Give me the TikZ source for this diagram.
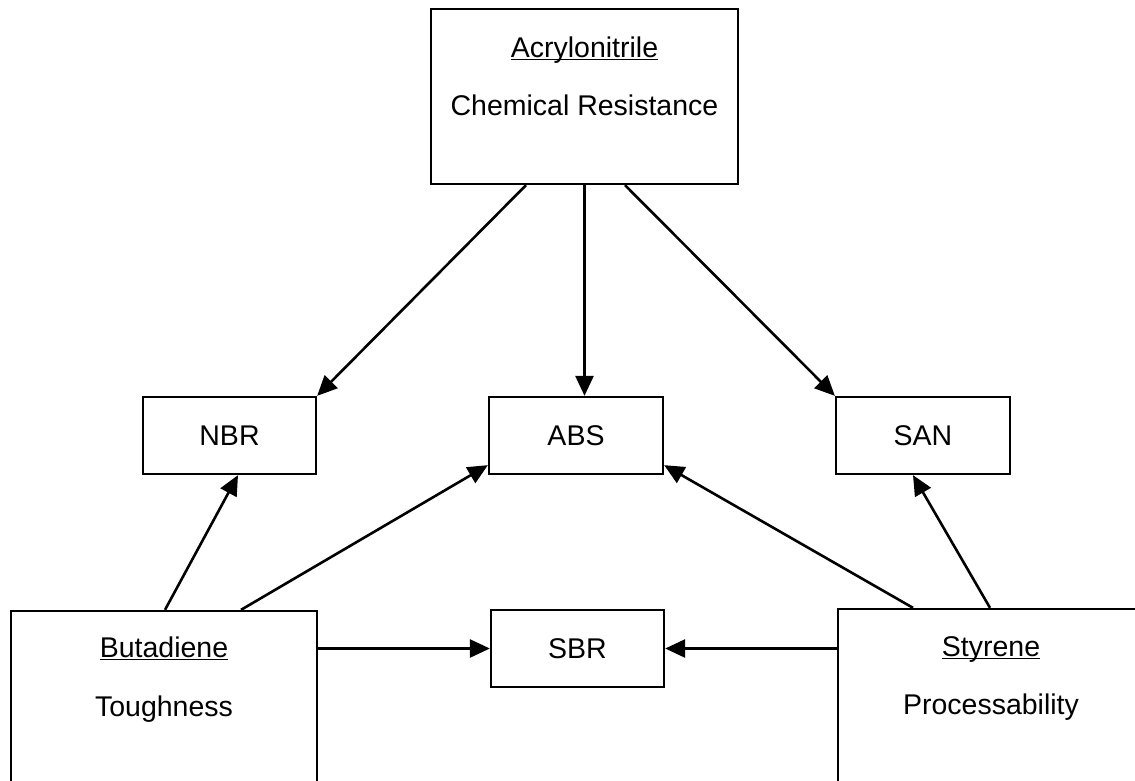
\documentclass[tikz,border=0pt]{standalone}
\usepackage{fontspec}
\setmainfont{Liberation Sans}
\usetikzlibrary{arrows.meta}
\newcommand\myul[1]{\setbox0\hbox{#1}\rlap{\rule[-2.5pt]{\wd0}{1.5pt}}\box0}
\tikzset{
  box/.style={draw=black, line width=2.3pt, fill=white, inner sep=0pt},
  bigbox/.style={box, minimum width=306pt, minimum height=175pt},
  smallbox/.style={box, minimum width=174pt, minimum height=77pt, font=\fontsize{28.5}{34}\selectfont},
  lbl/.style={anchor=base, inner sep=0pt, font=\fontsize{28.5}{34}\selectfont},
  conn/.style={line width=2.6pt, -{Triangle[length=20pt,width=18pt]}}
}
\begin{document}
\begin{tikzpicture}[x=1pt,y=-1pt]
\useasboundingbox (0,0) rectangle (1135,781);
\clip (0,0) rectangle (1135,781);
\fill[white] (0,0) rectangle (1135,781);
% boxes
\node[bigbox, minimum width=307pt] (acr) at (584.5,96.5) {};
\node[lbl] (acrA) at ([yshift=-50pt]acr.north) {\myul{Acrylonitrile}};
\node[lbl] (acrB) at ([yshift=-108pt]acr.north) {Chemical Resistance};
\node[smallbox, minimum width=173pt] (nbr) at (229.5,435.5) {NBR};
\node[smallbox] (abs) at (576,435.5) {ABS};
\node[smallbox] (san) at (923,435.5) {SAN};
\node[smallbox, minimum width=173pt] (sbr) at (577.5,648.5) {SBR};
\node[bigbox] (but) at (164,698.5) {};
\node[lbl] (butA) at ([yshift=-48pt]but.north) {\myul{Butadiene}};
\node[lbl] (butB) at ([yshift=-106.5pt]but.north) {Toughness};
\node[bigbox] (sty) at (991,696.5) {};
\node[lbl] (styA) at ([yshift=-49pt]sty.north) {\myul{Styrene}};
\node[lbl] (styB) at ([yshift=-107pt]sty.north) {Processability};
% connectors
\draw[conn] ([xshift=-58.5pt]acr.south) -- (nbr.north east);
\draw[conn] (acr.south) -- (acr.south |- abs.north);
\draw[conn] ([xshift=40.5pt]acr.south) -- (san.north west);
\draw[conn] ([xshift=1pt]but.north) -- ([xshift=8.5pt]nbr.south);
\draw[conn] ([xshift=77pt]but.north) -- ([yshift=10pt]abs.south west);
\draw[conn] ([xshift=-78pt]sty.north) -- ([yshift=10pt]abs.south east);
\draw[conn] ([xshift=-1pt]sty.north) -- ([xshift=-10pt]san.south);
\draw[conn] (sbr.west -| but.east) -- (sbr.west);
\draw[conn] (sbr.east -| sty.west) -- (sbr.east);
\end{tikzpicture}
\end{document}
